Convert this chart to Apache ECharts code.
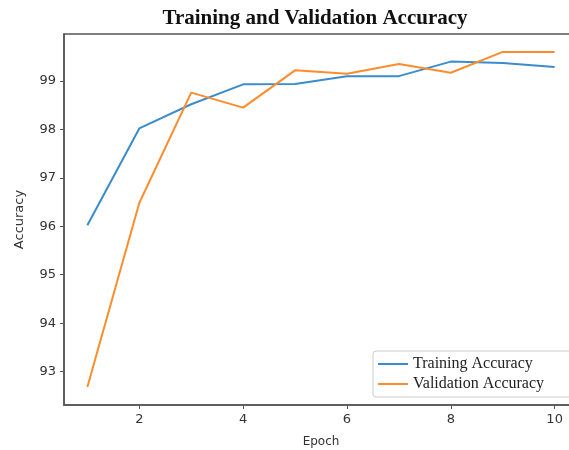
<!DOCTYPE html>
<html><head><meta charset="utf-8">
<script src="https://cdn.jsdelivr.net/npm/echarts@6/dist/echarts.min.js"></script>
<style>html,body{margin:0;padding:0;background:#fff}#c{width:569px;height:450px}</style>
</head><body><div id="c"></div>
<script>
const epochs = [1,2,3,4,5,6,7,8,9,10];
const trainAcc = [96.02,98.02,98.52,98.93,98.94,99.10,99.10,99.40,99.37,99.29];
const valAcc = [92.68,96.48,98.76,98.45,99.22,99.15,99.35,99.17,99.60,99.60];
const xTicks = [2,4,6,8,10];
const yTicks = [93,94,95,96,97,98,99];

const chart = echarts.init(document.getElementById('c'), null, {renderer:'canvas'});
const axisColor = '#555';
chart.setOption({
  animation:false,
  backgroundColor:'#fff',
  title:{text:'Training and Validation Accuracy', left:310, top:3, textAlign:'center',
    textStyle:{fontFamily:'Liberation Serif', fontWeight:'bold', fontSize:21, color:'#111'}},
  grid:{left:64, top:34, width:514, height:371, outerBoundsMode:'none', containLabel:false,
    show:true, borderColor:axisColor, borderWidth:1.5, backgroundColor:'transparent'},
  legend:{orient:'vertical', left:373, top:351, padding:[5,40,5,5], itemGap:4,
    backgroundColor:'#fff', borderColor:'#ccc', borderWidth:1, borderRadius:3,
    itemWidth:30, itemHeight:2, icon:'rect',
    textStyle:{fontFamily:'Liberation Serif', fontSize:16, color:'#222'},
    data:['Training Accuracy','Validation Accuracy']},
  xAxis:{type:'value', min:0.55, max:10.45, name:'Epoch', nameLocation:'middle', nameGap:31,
    nameTextStyle:{fontFamily:'DejaVu Sans', fontSize:12, color:'#333'},
    splitLine:{show:false},
    axisLine:{lineStyle:{color:axisColor, width:1.5}},
    axisTick:{customValues:xTicks, length:4, lineStyle:{color:axisColor}},
    axisLabel:{customValues:xTicks, fontFamily:'DejaVu Sans', fontSize:13, color:'#333', margin:8}},
  yAxis:{type:'value', min:92.31, max:99.97, name:'Accuracy', nameLocation:'middle', nameGap:38,
    nameTextStyle:{fontFamily:'DejaVu Sans', fontSize:13, color:'#333'},
    splitLine:{show:false},
    axisLine:{lineStyle:{color:axisColor, width:1.5}},
    axisTick:{customValues:yTicks, length:4, lineStyle:{color:axisColor}},
    axisLabel:{customValues:yTicks, fontFamily:'DejaVu Sans', fontSize:13, color:'#333', margin:8}},
  series:[
    {name:'Training Accuracy', type:'line', data:epochs.map((e,i)=>[e,trainAcc[i]]), showSymbol:false,
      lineStyle:{color:'#3a8ccb', width:2}, itemStyle:{color:'#3a8ccb'}},
    {name:'Validation Accuracy', type:'line', data:epochs.map((e,i)=>[e,valAcc[i]]), showSymbol:false,
      lineStyle:{color:'#fd8c2c', width:2}, itemStyle:{color:'#fd8c2c'}}
  ]
});
</script></body></html>
